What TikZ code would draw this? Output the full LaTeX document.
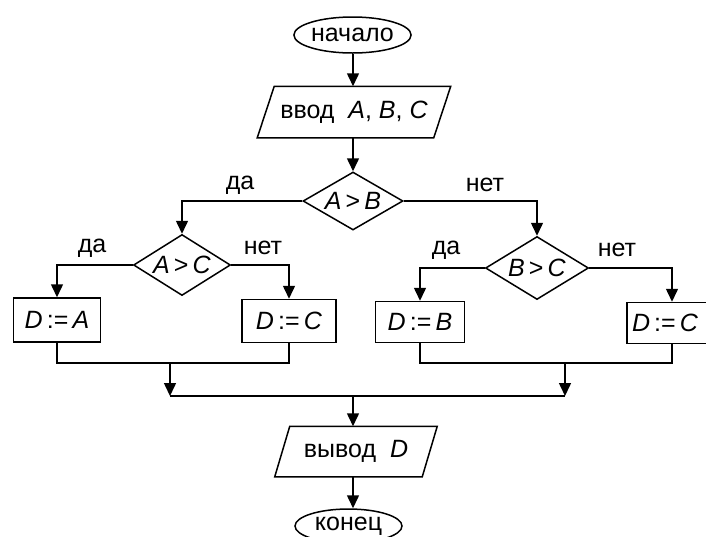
\documentclass[tikz,border=0pt]{standalone}
\usepackage{fontspec}
\setmainfont{Liberation Sans}
\usetikzlibrary{shapes.geometric,arrows.meta}
\begin{document}
\begin{tikzpicture}[x=1pt,y=-1pt,line width=1.5pt,
  every node/.style={font=\fontsize{25}{29}\selectfont},
  term/.style={ellipse,draw,inner sep=0pt},
  io/.style={rectangle,inner sep=0pt},
  cond/.style={diamond,draw,inner sep=0pt,aspect=1.7},
  proc/.style={rectangle,draw,inner sep=0pt},
  arr/.style={-{Triangle[width=12pt,length=13pt]}},
  lab/.style={inner sep=0pt}]
\useasboundingbox (0,0) rectangle (706,536);
\fill[white] (0,0) rectangle (706,536);

\node[term,minimum width=111pt,minimum height=36pt] (start) at (352.5,35) {начало};
\node[io,minimum width=192pt,minimum height=50pt] (in) at (354,112) {ввод\ \ \textit{A}, \textit{B}, \textit{C}};
\draw ([xshift=17pt]in.north west) -- (in.north east) -- ([xshift=-17pt]in.south east) -- (in.south west) -- cycle;
\node[cond,minimum width=100pt,minimum height=58pt] (ab) at (353,201) {\textit{A}\,>\,\textit{B}};
\node[cond,minimum width=97pt,minimum height=61pt] (ac) at (182,265) {\textit{A}\,>\,\textit{C}};
\node[cond,minimum width=103pt,minimum height=63pt] (bc) at (537,268) {\textit{B}\,>\,\textit{C}};
\node[proc,minimum width=87pt,minimum height=44pt] (da) at (57,320) {\textit{D}\,:=\,\textit{A}};
\node[proc,minimum width=94pt,minimum height=43pt] (dc1) at (289,321) {\textit{D}\,:=\,\textit{C}};
\node[proc,minimum width=89pt,minimum height=41pt] (db) at (420,322) {\textit{D}\,:=\,\textit{B}};
\node[proc,minimum width=90pt,minimum height=41pt,text width=80pt,align=left] (dc2) at (672,323) {\textit{D}\,:=\,\textit{C}};
\node[io,minimum width=161pt,minimum height=49pt] (out) at (356,451.5) {вывод\ \ \textit{D}};
\draw ([xshift=15pt]out.north west) -- (out.north east) -- ([xshift=-15pt]out.south east) -- (out.south west) -- cycle;
\node[term,minimum width=107pt,minimum height=34pt] (end) at (348.5,526) {конец};

\node[lab] at (240,185) {да};
\node[lab] at (485,185) {нет};
\node[lab] at (92,248) {да};
\node[lab] at (263,248) {нет};
\node[lab] at (446,250) {да};
\node[lab] at (617,250) {нет};

\coordinate (jL) at (170,363);
\coordinate (jR) at (565,363);
\coordinate (bL) at (170,396);
\coordinate (bR) at (565,396);
\coordinate (bM) at (353,396);

\draw[arr] (start.south -| bM) -- (bM |- in.north);
\draw[arr] (bM |- in.south) -- (ab.north);
\draw[arr] (ab.west) -| (ac.north);
\draw[arr] (ab.east) -| (bc.north);
\draw[arr] (ac.west) -| (da.north);
\draw[arr] (ac.east) -| (dc1.north);
\draw[arr] (bc.west) -| (db.north);
\draw[arr] (bc.east) -| (dc2.north);
\draw (da.south) |- (jL) -| (dc1.south);
\draw (db.south) |- (jR) -| (dc2.south);
\draw[arr] (jL) -- (bL);
\draw[arr] (jR) -- (bR);
\draw (bL) -- (bR);
\draw[arr] (bM) -- (bM |- out.north);
\draw[arr] (bM |- out.south) -- (bM |- end.north);
\end{tikzpicture}
\end{document}
